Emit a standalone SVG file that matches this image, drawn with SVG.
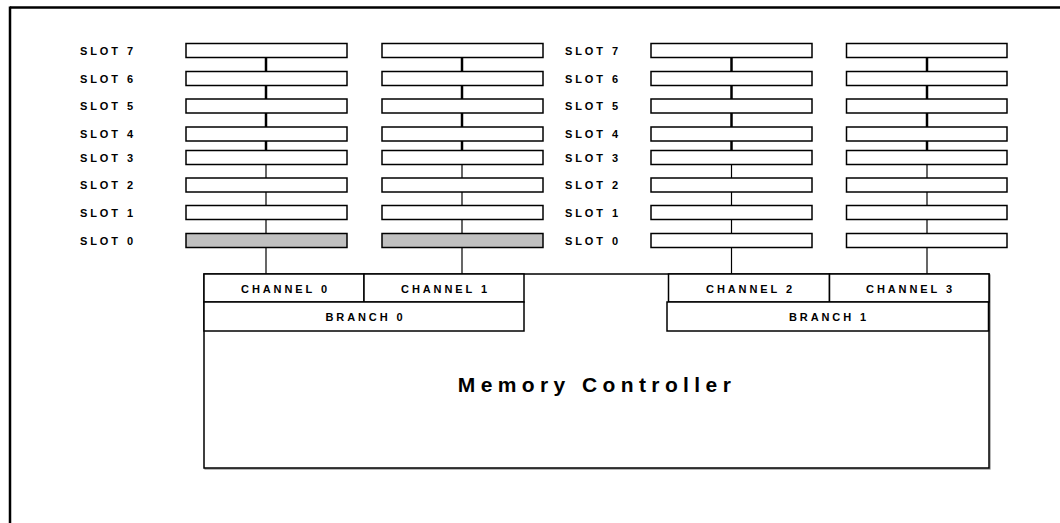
<svg xmlns="http://www.w3.org/2000/svg" width="1060" height="523" viewBox="0 0 1060 523">
<style>
.slot{fill:#fff;stroke:#000;stroke-width:1.5}
.slot0{fill:#c0c0c0;stroke:#000;stroke-width:1.5}
.box{fill:#fff;stroke:#000;stroke-width:1.5}
.lbl{font-family:"Liberation Sans",Arial,sans-serif;font-weight:bold;font-size:11px;letter-spacing:2.9px;fill:#000}
.mid{text-anchor:middle}
.title{font-family:"Liberation Sans",Arial,sans-serif;font-weight:bold;font-size:21px;letter-spacing:5.4px;fill:#000;text-anchor:middle}
.thick{stroke:#000;stroke-width:2.5;fill:none}
.thin{stroke:#000;stroke-width:1.2;fill:none}
</style>
<rect x="0" y="0" width="1060" height="523" fill="#fff"/>
<g id="frame">
<line x1="10" y1="7.5" x2="1060" y2="7.5" stroke="#000" stroke-width="2.5"/>
<line x1="10" y1="6.5" x2="10" y2="523" stroke="#000" stroke-width="2.5"/>
</g>
<g id="connectors">
<g id="conn-A">
<line class="thick" x1="266" y1="57.5" x2="266" y2="71.5"/>
<line class="thick" x1="266" y1="85.5" x2="266" y2="99"/>
<line class="thick" x1="266" y1="113" x2="266" y2="127"/>
<line class="thick" x1="266" y1="141" x2="266" y2="150.5"/>
<line class="thin" x1="266" y1="164.5" x2="266" y2="178"/>
<line class="thin" x1="266" y1="192" x2="266" y2="205.5"/>
<line class="thin" x1="266" y1="219.5" x2="266" y2="233.5"/>
<line class="thin" x1="266" y1="247.5" x2="266" y2="274"/>
</g>
<g id="conn-B">
<line class="thick" x1="462" y1="57.5" x2="462" y2="71.5"/>
<line class="thick" x1="462" y1="85.5" x2="462" y2="99"/>
<line class="thick" x1="462" y1="113" x2="462" y2="127"/>
<line class="thick" x1="462" y1="141" x2="462" y2="150.5"/>
<line class="thin" x1="462" y1="164.5" x2="462" y2="178"/>
<line class="thin" x1="462" y1="192" x2="462" y2="205.5"/>
<line class="thin" x1="462" y1="219.5" x2="462" y2="233.5"/>
<line class="thin" x1="462" y1="247.5" x2="462" y2="274"/>
</g>
<g id="conn-C">
<line class="thick" x1="731.5" y1="57.5" x2="731.5" y2="71.5"/>
<line class="thick" x1="731.5" y1="85.5" x2="731.5" y2="99"/>
<line class="thick" x1="731.5" y1="113" x2="731.5" y2="127"/>
<line class="thick" x1="731.5" y1="141" x2="731.5" y2="150.5"/>
<line class="thin" x1="731.5" y1="164.5" x2="731.5" y2="178"/>
<line class="thin" x1="731.5" y1="192" x2="731.5" y2="205.5"/>
<line class="thin" x1="731.5" y1="219.5" x2="731.5" y2="233.5"/>
<line class="thin" x1="731.5" y1="247.5" x2="731.5" y2="274"/>
</g>
<g id="conn-D">
<line class="thick" x1="927" y1="57.5" x2="927" y2="71.5"/>
<line class="thick" x1="927" y1="85.5" x2="927" y2="99"/>
<line class="thick" x1="927" y1="113" x2="927" y2="127"/>
<line class="thick" x1="927" y1="141" x2="927" y2="150.5"/>
<line class="thin" x1="927" y1="164.5" x2="927" y2="178"/>
<line class="thin" x1="927" y1="192" x2="927" y2="205.5"/>
<line class="thin" x1="927" y1="219.5" x2="927" y2="233.5"/>
<line class="thin" x1="927" y1="247.5" x2="927" y2="274"/>
</g>
</g>
<g id="labels-left">
<text class="lbl" x="80" y="54.5">SLOT 7</text>
<text class="lbl" x="80" y="82.5">SLOT 6</text>
<text class="lbl" x="80" y="110">SLOT 5</text>
<text class="lbl" x="80" y="138">SLOT 4</text>
<text class="lbl" x="80" y="161.5">SLOT 3</text>
<text class="lbl" x="80" y="189">SLOT 2</text>
<text class="lbl" x="80" y="216.5">SLOT 1</text>
<text class="lbl" x="80" y="244.5">SLOT 0</text>
</g>
<g id="labels-mid">
<text class="lbl" x="565" y="54.5">SLOT 7</text>
<text class="lbl" x="565" y="82.5">SLOT 6</text>
<text class="lbl" x="565" y="110">SLOT 5</text>
<text class="lbl" x="565" y="138">SLOT 4</text>
<text class="lbl" x="565" y="161.5">SLOT 3</text>
<text class="lbl" x="565" y="189">SLOT 2</text>
<text class="lbl" x="565" y="216.5">SLOT 1</text>
<text class="lbl" x="565" y="244.5">SLOT 0</text>
</g>
<g id="slots-A">
<rect class="slot" x="186" y="43.5" width="161" height="14"/>
<rect class="slot" x="186" y="71.5" width="161" height="14"/>
<rect class="slot" x="186" y="99" width="161" height="14"/>
<rect class="slot" x="186" y="127" width="161" height="14"/>
<rect class="slot" x="186" y="150.5" width="161" height="14"/>
<rect class="slot" x="186" y="178" width="161" height="14"/>
<rect class="slot" x="186" y="205.5" width="161" height="14"/>
<rect class="slot0" x="186" y="233.5" width="161" height="14"/>
</g>
<g id="slots-B">
<rect class="slot" x="382" y="43.5" width="161" height="14"/>
<rect class="slot" x="382" y="71.5" width="161" height="14"/>
<rect class="slot" x="382" y="99" width="161" height="14"/>
<rect class="slot" x="382" y="127" width="161" height="14"/>
<rect class="slot" x="382" y="150.5" width="161" height="14"/>
<rect class="slot" x="382" y="178" width="161" height="14"/>
<rect class="slot" x="382" y="205.5" width="161" height="14"/>
<rect class="slot0" x="382" y="233.5" width="161" height="14"/>
</g>
<g id="slots-C">
<rect class="slot" x="651" y="43.5" width="161" height="14"/>
<rect class="slot" x="651" y="71.5" width="161" height="14"/>
<rect class="slot" x="651" y="99" width="161" height="14"/>
<rect class="slot" x="651" y="127" width="161" height="14"/>
<rect class="slot" x="651" y="150.5" width="161" height="14"/>
<rect class="slot" x="651" y="178" width="161" height="14"/>
<rect class="slot" x="651" y="205.5" width="161" height="14"/>
<rect class="slot" x="651" y="233.5" width="161" height="14"/>
</g>
<g id="slots-D">
<rect class="slot" x="846.5" y="43.5" width="160.5" height="14"/>
<rect class="slot" x="846.5" y="71.5" width="160.5" height="14"/>
<rect class="slot" x="846.5" y="99" width="160.5" height="14"/>
<rect class="slot" x="846.5" y="127" width="160.5" height="14"/>
<rect class="slot" x="846.5" y="150.5" width="160.5" height="14"/>
<rect class="slot" x="846.5" y="178" width="160.5" height="14"/>
<rect class="slot" x="846.5" y="205.5" width="160.5" height="14"/>
<rect class="slot" x="846.5" y="233.5" width="160.5" height="14"/>
</g>
<g id="memory-controller">
<rect x="205" y="275" width="785" height="194" fill="none" stroke="#888" stroke-width="1.2"/>
<rect class="box" x="204" y="274" width="785" height="194"/>
<text class="title" x="597" y="392">Memory Controller</text>
</g>
<g id="channel0">
<rect class="box" x="204" y="274" width="160" height="28"/>
<text class="lbl mid" x="285.5" y="292.5">CHANNEL 0</text>
</g>
<g id="channel1">
<rect class="box" x="364" y="274" width="160" height="28"/>
<text class="lbl mid" x="445.5" y="292.5">CHANNEL 1</text>
</g>
<g id="branch0">
<rect class="box" x="204" y="302" width="320" height="29"/>
<text class="lbl mid" x="365.5" y="320.5">BRANCH 0</text>
</g>
<g id="channel2">
<rect class="box" x="668.5" y="274" width="161" height="28"/>
<text class="lbl mid" x="750.5" y="292.5">CHANNEL 2</text>
</g>
<g id="channel3">
<rect class="box" x="829.5" y="274" width="159.5" height="28"/>
<text class="lbl mid" x="910.5" y="292.5">CHANNEL 3</text>
</g>
<g id="branch1">
<rect class="box" x="667" y="302" width="321.5" height="29"/>
<text class="lbl mid" x="829" y="320.5">BRANCH 1</text>
</g>
</svg>
